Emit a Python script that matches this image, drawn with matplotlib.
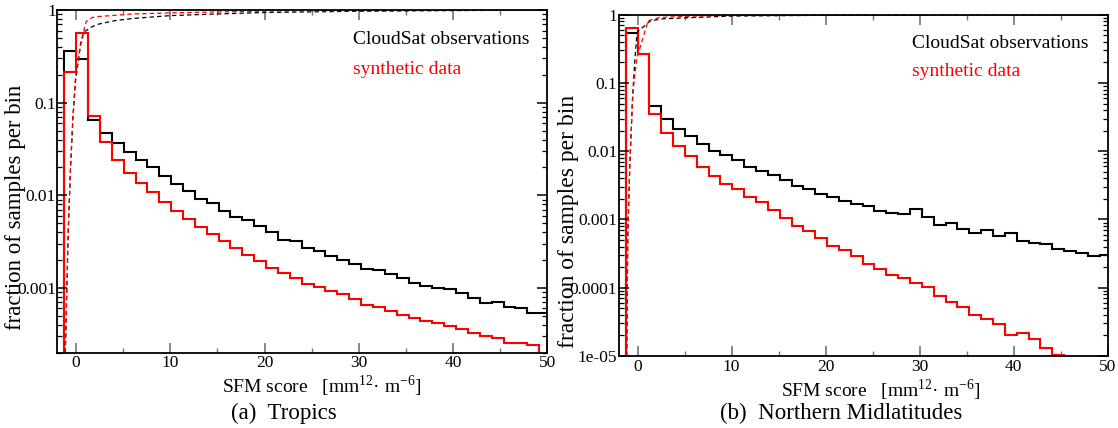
import matplotlib
matplotlib.use("Agg")
import matplotlib.pyplot as plt
import numpy as np
from matplotlib.ticker import FixedLocator, FixedFormatter, LogLocator, MultipleLocator, NullFormatter

plt.rcParams['font.family'] = ['Liberation Serif', 'DejaVu Serif']
plt.rcParams['mathtext.fontset'] = 'custom'
plt.rcParams['mathtext.rm'] = 'Liberation Serif'

# SFM score bins, first bin starts one width below zero
bin_width = 1.26

# (a) Tropics: fraction of samples per bin
trop_obs = [0.36, 0.293, 0.0647, 0.0472, 0.0369, 0.0294, 0.0238, 0.0202, 0.0163, 0.0134,
            0.0111, 0.0092, 0.0083, 0.0067, 0.0059, 0.0054, 0.0047, 0.0040, 0.0033, 0.0032,
            0.0027, 0.0025, 0.0022, 0.0020, 0.0018, 0.0016, 0.00155, 0.00142, 0.00129, 0.00113,
            0.00104, 0.00100, 0.00098, 0.00088, 0.00078, 0.00069, 0.00070, 0.00063, 0.00060, 0.00053,
            0.00053]
trop_syn = [0.214, 0.569, 0.0715, 0.0372, 0.0238, 0.0174, 0.0136, 0.0109, 0.0085, 0.0068,
            0.0056, 0.00455, 0.00385, 0.0032, 0.0027, 0.00225, 0.00195, 0.00164, 0.00145, 0.00129,
            0.00111, 0.00102, 0.00092, 0.00085, 0.00076, 0.00066, 0.00063, 0.00057, 0.00051, 0.00047,
            0.00044, 0.00042, 0.00039, 0.00036, 0.00033, 0.00030, 0.00029, 0.000255, 0.000255, 0.00024]

# cumulative curves (dashed)
trop_obs_cum_x = [-1.15, -1.02, -0.85, -0.6, -0.35, -0.07, 0.47, 0.82, 1.7, 2.4, 4.2, 6.0, 10, 14.8, 20.1, 30, 40, 50]
trop_obs_cum = [2e-4, 7e-4, 0.0038, 0.019, 0.065, 0.17, 0.42, 0.58, 0.66, 0.705, 0.77, 0.81, 0.87, 0.905, 0.94, 0.97, 0.985, 1.0]
trop_syn_cum_x = [-1.15, -1.02, -0.85, -0.6, -0.35, -0.07, 0.47, 1.06, 1.7, 2.4, 5.9, 10.7, 20.6, 35, 50]
trop_syn_cum = [2e-4, 7.3e-4, 0.0039, 0.020, 0.070, 0.19, 0.44, 0.75, 0.83, 0.85, 0.905, 0.935, 0.975, 0.99, 1.0]

# (b) Northern Midlatitudes
nml_obs = [0.54, 0.267, 0.0465, 0.030, 0.0214, 0.0167, 0.0128, 0.0102, 0.0089, 0.0074,
           0.0059, 0.0052, 0.0045, 0.0038, 0.0031, 0.0028, 0.0024, 0.00215, 0.00188, 0.00166,
           0.00159, 0.00135, 0.00123, 0.00119, 0.00141, 0.00108, 0.00083, 0.00090, 0.00072, 0.00064,
           0.00070, 0.00058, 0.00063, 0.00049, 0.00046, 0.00043, 0.00037, 0.00034, 0.00032, 0.00029,
           0.00030]
nml_syn = [0.63, 0.267, 0.0347, 0.0185, 0.012, 0.0084, 0.0059, 0.0044, 0.0033, 0.00276,
           0.00215, 0.00178, 0.00138, 0.00106, 0.00081, 0.00068, 0.00054, 0.000415, 0.00036, 0.00029,
           0.000222, 0.00019, 0.000155, 0.000138, 0.000117, 0.000101, 7.5e-5, 6.1e-5, 5.2e-5, 4.0e-5,
           3.5e-5, 2.9e-5, 2.0e-5, 2.2e-5, 1.75e-5, 1.32e-5, 1.05e-5]

nml_obs_cum_x = [-1.15, -1.03, -0.82, -0.53, -0.3, -0.1, 0.0, 1.3, 2.4, 6, 10, 20, 35, 50]
nml_obs_cum = [1e-5, 6.5e-4, 0.0062, 0.06, 0.2, 0.45, 0.56, 0.80, 0.865, 0.91, 0.955, 0.98, 0.99, 1.0]
nml_syn_cum_x = [-1.15, -1.03, -0.82, -0.53, -0.39, -0.18, -0.04, 1.13, 2.37, 6, 10, 20, 50]
nml_syn_cum = [1e-5, 6.3e-4, 0.0059, 0.0556, 0.097, 0.17, 0.238, 0.817, 0.913, 0.955, 0.975, 0.99, 1.0]

left_ticks = [1, 0.1, 0.01, 0.001]
left_labels = ['1', '0.1', '0.01', '0.001']
right_ticks = [1, 0.1, 0.01, 0.001, 1e-4, 1e-5]
right_labels = ['1', '0.1', '0.01', '0.001', '0.0001', '1e-05']


def drawPanel(ax, obs, syn, obs_cx, obs_c, syn_cx, syn_c, ylim, yticks, ylabels):
    e_obs = bin_width * np.arange(-1, len(obs))
    e_syn = bin_width * np.arange(-1, len(syn))
    ax.set_yscale('log')
    ax.stairs(obs, e_obs, baseline=0, color='black', linewidth=1.5)
    ax.stairs(syn, e_syn, baseline=0, color='#ff0000', linewidth=1.5)
    ax.plot(obs_cx, obs_c, color='black', linewidth=0.9, dashes=(3.5, 2.5))
    ax.plot(syn_cx, syn_c, color='#ff0000', linewidth=0.9, dashes=(3.5, 2.5))
    ax.set_xlim(-2, 50)
    ax.set_ylim(*ylim)
    ax.xaxis.set_major_locator(FixedLocator([0, 10, 20, 30, 40, 50]))
    ax.xaxis.set_minor_locator(MultipleLocator(5))
    ax.yaxis.set_major_locator(FixedLocator(yticks))
    ax.yaxis.set_major_formatter(FixedFormatter(ylabels))
    ax.yaxis.set_minor_locator(LogLocator(base=10, subs=np.arange(2, 10)))
    ax.yaxis.set_minor_formatter(NullFormatter())
    ax.tick_params(which='both', direction='in', top=True, right=True, labelsize=12.5)
    ax.tick_params(axis='x', which='major', length=7, width=1.2, color='0.45', pad=2)
    ax.tick_params(axis='x', which='minor', length=3.5, width=1.0, color='0.45')
    ax.tick_params(axis='y', which='major', length=7, width=1.1, pad=1)
    ax.tick_params(axis='y', which='minor', length=3.5, width=0.9)
    for s in ax.spines.values():
        s.set_linewidth(1.3)


W, H = 1118, 428
fig = plt.figure(figsize=(W / 100, H / 100), dpi=100)

ax1 = fig.add_axes([57.3 / W, 1 - 352.7 / H, 490 / W, 342.7 / H])
drawPanel(ax1, trop_obs, trop_syn, trop_obs_cum_x, trop_obs_cum, trop_syn_cum_x, trop_syn_cum,
          (2e-4, 1), left_ticks, left_labels)

ax2 = fig.add_axes([618.7 / W, 1 - 356 / H, 489 / W, 341.3 / H])
drawPanel(ax2, nml_obs, nml_syn, nml_obs_cum_x, nml_obs_cum, nml_syn_cum_x, nml_syn_cum,
          (1e-5, 1), right_ticks, right_labels)

xlab = 'SFM score   [mm$^{12}$· m$^{-6}$]'
fig.text(322 / W, 1 - 386 / H, xlab, ha='center', va='center', fontsize=14)
fig.text(881 / W, 1 - 390 / H, xlab, ha='center', va='center', fontsize=14)

fig.text(16 / W, 1 - 207 / H, 'fraction of samples per bin', rotation=90,
         ha='center', va='center', fontsize=16.5)
fig.text(569 / W, 1 - 221 / H, 'fraction of samples per bin', rotation=90,
         ha='center', va='center', fontsize=17)

# legend text
fig.text(353 / W, 1 - 40 / H, 'CloudSat observations', ha='left', va='center', fontsize=14)
fig.text(353 / W, 1 - 70 / H, 'synthetic data', ha='left', va='center', fontsize=14, color='#ff0000')
fig.text(912 / W, 1 - 44 / H, 'CloudSat observations', ha='left', va='center', fontsize=14)
fig.text(912 / W, 1 - 72 / H, 'synthetic data', ha='left', va='center', fontsize=14, color='#ff0000')

# sub-captions
fig.text(284 / W, 1 - 413 / H, '(a)  Tropics', ha='center', va='center', fontsize=16.5)
fig.text(841 / W, 1 - 413 / H, '(b)  Northern Midlatitudes', ha='center', va='center', fontsize=16.5)

fig.savefig('out.png', dpi=100)
